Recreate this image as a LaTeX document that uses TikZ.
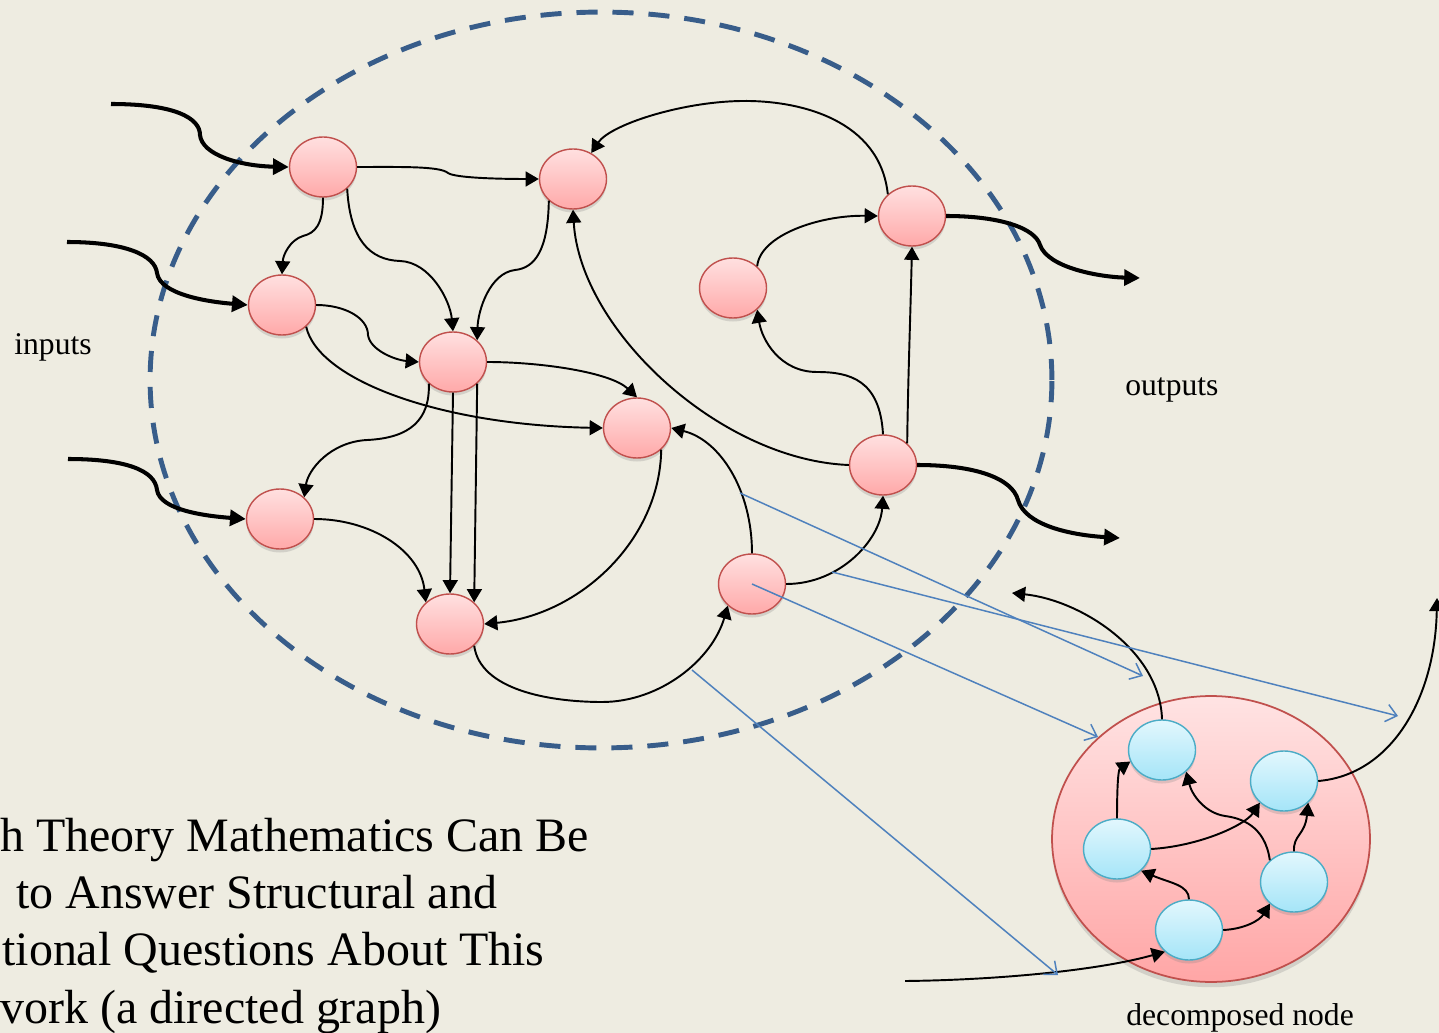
\documentclass[tikz,border=0pt]{standalone}
\usepackage{fontspec}
\setmainfont{Liberation Serif}
\usepackage{xcolor}
\usepackage{tikz}
\usetikzlibrary{shapes,arrows.meta,shadows}

\definecolor{slide}{HTML}{EEECE1}
\definecolor{nodeedge}{HTML}{C0504D}
\definecolor{nodetop}{HTML}{FFE0E0}
\definecolor{nodebot}{HTML}{FFA9A9}
\definecolor{dectop}{HTML}{FFE3E3}
\definecolor{decbot}{HTML}{FFA6A6}
\definecolor{subedge}{HTML}{4BACC6}
\definecolor{subtop}{HTML}{E2F7FD}
\definecolor{subbot}{HTML}{A5E5F8}
\definecolor{ringblue}{HTML}{385D8A}
\definecolor{linkblue}{HTML}{4F81BD}

\begin{document}
\begin{tikzpicture}[x=0.02cm, y=-0.02cm]
\tikzstyle{vertex} = [ellipse, draw=nodeedge, line width=0.8pt, top color=nodetop, bottom color=nodebot, minimum width=1.34cm, minimum height=1.2cm, drop shadow={opacity=0.25, shadow xshift=0pt, shadow yshift=-2pt}]
\tikzstyle{subvertex} = [vertex, draw=subedge, top color=subtop, bottom color=subbot]
\tikzstyle{arrow} = [line width=1.1pt, -{Triangle[length=7.5pt, width=8.5pt]}]
\tikzstyle{thickarrow} = [line width=2.3pt, -{Triangle[length=9pt, width=9pt]}]
\tikzstyle{link} = [linkblue, line width=0.85pt, -{Straight Barb[length=6pt, width=10pt]}]
\tikzstyle{smalltext} = [inner sep=0pt, anchor=base west, font=\fontsize{18}{21}\selectfont]
\tikzstyle{bigtext} = [inner sep=0pt, anchor=base west, font=\fontsize{27.3}{32}\selectfont]

\path[use as bounding box, fill=slide] (0,0) rectangle (1439,1033);

\node[ellipse, draw=ringblue, line width=2.8pt, dash pattern=on 12pt off 8.5pt, minimum width=18.04cm, minimum height=14.72cm] (net) at (601,380) {};

\node[vertex] (A) at (323,167) {};
\node[vertex] (B) at (573,179) {};
\node[vertex] (C) at (282,305) {};
\node[vertex] (D) at (453,362) {};
\node[vertex] (E) at (637,428) {};
\node[vertex] (F) at (280,519) {};
\node[vertex] (G) at (450,624) {};
\node[vertex] (H) at (752,584) {};
\node[vertex] (I) at (733,288) {};
\node[vertex] (J) at (912,216) {};
\node[vertex] (K) at (883,465) {};

\node[ellipse, draw=nodeedge, line width=1pt, top color=dectop, bottom color=decbot, minimum width=6.36cm, minimum height=5.72cm, drop shadow={opacity=0.25, shadow xshift=0pt, shadow yshift=-3pt}] (dec) at (1211,839) {};
\node[subvertex] (s1) at (1162,750) {};
\node[subvertex] (s2) at (1284,781) {};
\node[subvertex] (s3) at (1117,849) {};
\node[subvertex] (s4) at (1294,882) {};
\node[subvertex] (s5) at (1189,930) {};

\coordinate (in1) at (111,104);
\coordinate (in2) at (67,242);
\coordinate (in3) at (68,459);
\coordinate (out1) at (1140,278);
\coordinate (out2) at (1120,538);
\coordinate (decin) at (905,981);
\coordinate (decout1) at (1012,593);
\coordinate (decout2) at (1437,598);

\draw[thickarrow] (in1) .. controls (175,104) and (200,118) .. (200,135) .. controls (202,155) and (240,166) .. (A.west);
\draw[thickarrow] (in2) .. controls (125,242) and (155,255) .. (157,273) .. controls (160,295) and (210,302) .. (C.west);
\draw[thickarrow] (in3) .. controls (125,459) and (155,470) .. (157,490) .. controls (160,510) and (205,516) .. (F.west);
\draw[thickarrow] (J.east) .. controls (1000,216) and (1035,228) .. (1040,245) .. controls (1048,268) and (1100,277) .. (out1);
\draw[thickarrow] (K.east) .. controls (975,465) and (1012,478) .. (1018,500) .. controls (1025,525) and (1070,535) .. (out2);

\draw[arrow] (A.east) .. controls (400,167) and (440,166) .. (448,173) .. controls (455,178) and (500,179) .. (B.west);
\draw[arrow] (A.south) .. controls (323,225) and (315,233) .. (303,236) .. controls (290,240) and (283,255) .. (C.north);
\draw[arrow] (A.south east) .. controls (350,240) and (370,260) .. (400,261) .. controls (430,262) and (450,300) .. (D.north);
\draw[arrow] (B.south west) .. controls (548,250) and (535,268) .. (515,270) .. controls (490,273) and (478,310) .. (D.north east);
\draw[arrow] (C.east) .. controls (345,305) and (368,318) .. (368,335) .. controls (370,350) and (395,360) .. (D.west);
\draw[arrow] (C.south east) .. controls (318,380) and (440,425) .. (E.west);
\draw[arrow] (D.east) .. controls (540,362) and (610,372) .. (E.north);
\draw[arrow] (D.south west) .. controls (430,420) and (410,438) .. (367,440) .. controls (330,442) and (308,470) .. (F.north east);
\draw[arrow] (D.south) -- (G.north);
\draw[arrow] (D.south east) -- (G.north east);
\draw[arrow] (F.east) .. controls (370,519) and (420,550) .. (G.north west);
\draw[arrow] (E.south east) .. controls (660,540) and (580,615) .. (G.east);
\draw[arrow] (G.south east) .. controls (480,690) and (550,702) .. (602,702) .. controls (660,702) and (712,660) .. (H.south west);
\draw[arrow] (H.north) .. controls (752,490) and (720,440) .. (E.east);
\draw[arrow] (H.east) .. controls (840,584) and (880,540) .. (K.south);
\draw[arrow] (K.west) .. controls (720,460) and (580,330) .. (B.south);
\draw[arrow] (K.north) .. controls (880,380) and (850,372) .. (817,372) .. controls (780,372) and (762,340) .. (I.south east);
\draw[arrow] (K.north east) .. controls (908,380) and (910,330) .. (J.south);
\draw[arrow] (I.north east) .. controls (760,235) and (820,215) .. (J.west);
\draw[arrow] (J.north west) .. controls (880,120) and (800,100) .. (741,101) .. controls (680,102) and (610,125) .. (B.55);

\draw[arrow] (s1.north) .. controls (1160,650) and (1080,600) .. (decout1);
\draw[arrow] (s2.east) .. controls (1390,775) and (1435,700) .. (decout2);
\draw[arrow] (decin) .. controls (1000,980) and (1100,970) .. (s5.south west);
\draw[arrow] (s3.north) .. controls (1117,790) and (1118,770) .. (s1.200);
\draw[arrow] (s5.north) .. controls (1189,885) and (1170,883) .. (s3.south east);
\draw[arrow] (s5.east) .. controls (1245,929) and (1260,920) .. (s4.south west);
\draw[arrow] (s4.north) .. controls (1293,835) and (1305,835) .. (s2.south east);
\draw[arrow] (s3.east) .. controls (1200,846) and (1245,825) .. (s2.south west);
\draw[arrow] (s4.north west) .. controls (1265,825) and (1240,818) .. (1225,816) .. controls (1205,813) and (1192,795) .. (s1.south east);

\coordinate (l1a) at (740,493);
\coordinate (l1b) at (1143,676);
\coordinate (l2a) at (832,572);
\coordinate (l2b) at (1398,716);
\coordinate (l3b) at (1098,737);
\coordinate (l4a) at (692,670);
\coordinate (l4b) at (1058,975);
\draw[link] (l1a) -- (l1b);
\draw[link] (l2a) -- (l2b);
\draw[link] (H.center) -- (l3b);
\draw[link] (l4a) -- (l4b);

\node[smalltext] (inputs) at (14,355) {inputs};
\node[smalltext] (outputs) at (1125,396) {outputs};
\node[smalltext] (declabel) at (1126,1025) {decomposed node};
\node[bigtext] (line1) at (0,851) {h Theory Mathematics Can Be};
\node[bigtext] (line2) at (16,908) {to Answer Structural and};
\node[bigtext] (line3) at (2,965) {tional Questions About This};
\node[bigtext] (line4) at (0,1023) {vork (a directed graph)};
\end{tikzpicture}
\end{document}
